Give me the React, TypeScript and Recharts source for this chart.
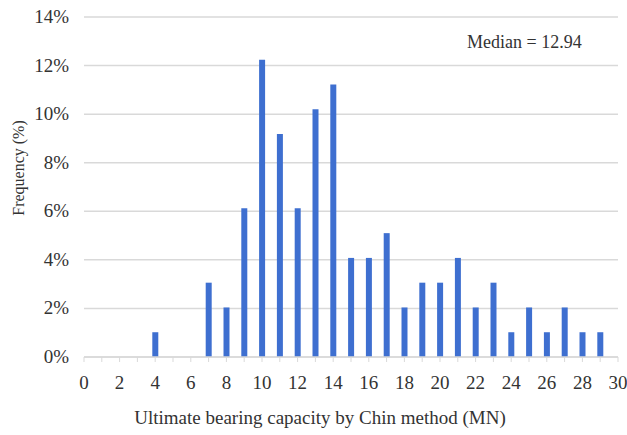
import { BarChart, Bar, XAxis, YAxis, CartesianGrid, Customized } from "recharts";

// bin centre (MN) and frequency (%)
const capacity = [4, 5, 6, 7, 8, 9, 10, 11, 12, 13, 14, 15, 16, 17, 18, 19, 20, 21, 22, 23, 24, 25, 26, 27, 28, 29];
const frequency = [1.02, 0, 0, 3.06, 2.04, 6.12, 12.24, 9.18, 6.12, 10.2, 11.22, 4.08, 4.08, 5.1, 2.04, 3.06, 3.06, 4.08, 2.04, 3.06, 1.02, 2.04, 1.02, 2.04, 1.02, 1.02];

const xTicks = Array.from({ length: 31 }, (_, i) => i);
const yTicks = [0, 2, 4, 6, 8, 10, 12, 14];

const data = capacity.map((c, i) => ({ capacity: c, freq: frequency[i] }));

const font = "'Liberation Serif', serif";
const textColor = "#333";
const textStyle = { fontFamily: font, fontSize: 19, fill: textColor };

const XTick = (props: any) => {
  const { x, y, payload } = props;
  if (payload.value % 2 !== 0) return <g />;
  return (
    <text x={x} y={y + 27} textAnchor="middle" style={textStyle}>
      {payload.value}
    </text>
  );
};

const YTick = (props: any) => {
  const { x, y, payload } = props;
  return (
    <text x={x - 15} y={y + 6} textAnchor="end" style={textStyle}>
      {payload.value}%
    </text>
  );
};

export default function App() {
  return (
    <div style={{ position: "absolute", left: 0, top: 0, width: 627, height: 435, background: "#fff", fontFamily: font }}>
      <BarChart width={627} height={435} data={data} margin={{ top: 17, right: 9, bottom: 0, left: 0 }}>
        <CartesianGrid vertical={false} stroke="#d9d9d9" strokeWidth={1.5} />
        <XAxis
          dataKey="capacity"
          type="number"
          domain={[0, 30]}
          ticks={xTicks}
          interval={0}
          height={78}
          axisLine={{ stroke: "#d9d9d9", strokeWidth: 1.5 }}
          tickLine={{ stroke: "#d9d9d9" }}
          tickSize={5}
          tickMargin={0}
          tick={XTick}
        />
        <YAxis
          domain={[0, 14]}
          ticks={yTicks}
          width={84}
          axisLine={false}
          tickLine={false}
          tickSize={0}
          tickMargin={0}
          tick={YTick}
        />
        <Bar dataKey="freq" fill="#3E6FD0" barSize={6} isAnimationActive={false} />
        <Customized
          component={() => (
            <g style={{ fontFamily: font, fill: textColor }}>
              <text x={320} y={424} fontSize={19} textAnchor="middle">
                Ultimate bearing capacity by Chin method (MN)
              </text>
              <text x={24} y={168} fontSize={16} textAnchor="middle" transform="rotate(-90 24 168)">
                Frequency (%)
              </text>
              <text x={467} y={48} fontSize={18}>
                Median = 12.94
              </text>
            </g>
          )}
        />
      </BarChart>
    </div>
  );
}
